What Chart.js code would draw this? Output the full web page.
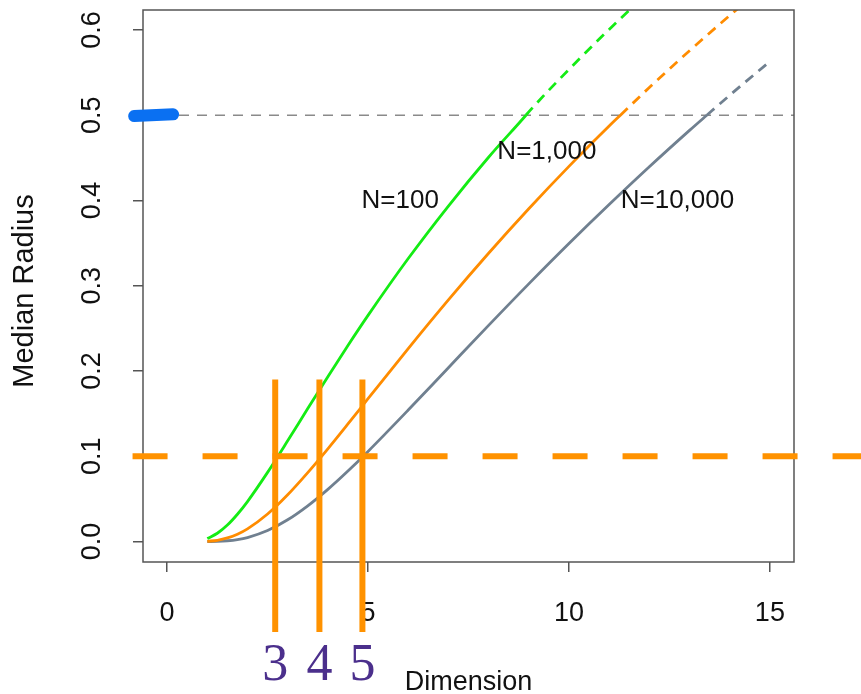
<!DOCTYPE html>
<html>
<head>
<meta charset="utf-8">
<script src="https://cdn.jsdelivr.net/npm/chart.js@4.4.1/dist/chart.umd.min.js"></script>
<style>
  body { margin: 0; background: #fff; }
  #chart { display: block; }
</style>
</head>
<body>
<canvas id="chart" width="861" height="694"></canvas>
<script>
// dimensions (x) and median radius for each sample size
const dims = [1, 1.25, 1.5, 1.75, 2, 2.5, 3, 3.5, 4, 4.5, 5, 6, 7, 8, 9, 10, 11, 12, 13, 14, 15];
const radius100 = [0.0035, 0.0097, 0.0193, 0.0320, 0.0469, 0.0811, 0.1181, 0.1560, 0.1934, 0.2299, 0.2652, 0.3319, 0.3935, 0.4507, 0.5039, 0.5537, 0.6006, 0.6449, 0.6870, 0.7270, 0.7653];
const radius1000 = [0.0003, 0.0015, 0.0042, 0.0086, 0.0149, 0.0323, 0.0549, 0.0809, 0.1088, 0.1379, 0.1675, 0.2263, 0.2834, 0.3381, 0.3903, 0.4400, 0.4873, 0.5325, 0.5756, 0.6169, 0.6566];
const radius10000 = [0.0000, 0.0002, 0.0009, 0.0023, 0.0047, 0.0129, 0.0255, 0.0419, 0.0612, 0.0827, 0.1057, 0.1542, 0.2039, 0.2535, 0.3022, 0.3495, 0.3952, 0.4395, 0.4822, 0.5234, 0.5631];
// where each curve reaches the 0.5 line (solid below, dashed above)
const crossDims = [8.93, 11.28, 13.43];
const seriesNames = ['N=100', 'N=1,000', 'N=10,000'];
const seriesColors = ['#14ec14', '#ff8c00', '#708090'];
const labelPos = [[5.8, 0.4], [9.45, 0.457], [12.7, 0.4]];

const xTicks = [0, 5, 10, 15];
const yTicks = [0, 0.1, 0.2, 0.3, 0.4, 0.5, 0.6];
const refLine = 0.5;

// hand drawn marks on top of the figure
const cutLine = 0.1;
const cutDims = [2.69, 3.79, 4.86];
const cutLabels = ['3', '4', '5'];

function makePoints(vals, cross) {
    let pts = dims.map((d, i) => ({ x: d, y: vals[i] }));
    pts.push({ x: cross, y: refLine });
    pts.sort((a, b) => a.x - b.x);
    return pts;
}

const allVals = [radius100, radius1000, radius10000];
const datasets = allVals.map((vals, i) => ({
    label: seriesNames[i],
    data: makePoints(vals, crossDims[i]),
    borderColor: seriesColors[i],
    borderWidth: 2.8,
    pointRadius: 0,
    cubicInterpolationMode: 'monotone',
    segment: {
        borderDash: ctx => ctx.p0.parsed.y >= refLine - 0.0001 ? [10, 7] : undefined
    }
}));

const axisFont = '27px "Liberation Sans", Arial, sans-serif';

const extras = {
    id: 'extras',
    beforeDatasetsDraw(chart) {
        const { ctx, chartArea, scales: { y } } = chart;
        const py = y.getPixelForValue(refLine);
        ctx.save();
        ctx.strokeStyle = '#8a8a8a';
        ctx.lineWidth = 1.5;
        ctx.setLineDash([10, 8]);
        ctx.beginPath();
        ctx.moveTo(chartArea.left, py);
        ctx.lineTo(chartArea.right, py);
        ctx.stroke();
        ctx.restore();
    },
    afterDraw(chart) {
        const { ctx, chartArea, scales: { x, y } } = chart;
        ctx.save();
        // frame
        ctx.strokeStyle = '#555';
        ctx.lineWidth = 1.5;
        ctx.strokeRect(chartArea.left, chartArea.top, chartArea.right - chartArea.left, chartArea.bottom - chartArea.top);

        // y tick labels, rotated like R
        ctx.fillStyle = '#111';
        ctx.font = axisFont;
        ctx.textAlign = 'center';
        ctx.textBaseline = 'alphabetic';
        yTicks.forEach(v => {
            ctx.save();
            ctx.translate(chartArea.left - 43, y.getPixelForValue(v));
            ctx.rotate(-Math.PI / 2);
            ctx.fillText(v.toFixed(1), 0, 0);
            ctx.restore();
        });

        // axis titles
        ctx.save();
        ctx.font = '29px "Liberation Sans", Arial, sans-serif';
        ctx.translate(chartArea.left - 110, (chartArea.top + chartArea.bottom) / 2 + 5);
        ctx.rotate(-Math.PI / 2);
        ctx.fillText('Median Radius', 0, 0);
        ctx.restore();
        ctx.fillText('Dimension', (chartArea.left + chartArea.right) / 2, chartArea.bottom + 128);

        // curve labels
        ctx.font = '26px "Liberation Sans", Arial, sans-serif';
        ctx.textBaseline = 'middle';
        labelPos.forEach((p, i) => {
            ctx.fillText(seriesNames[i], x.getPixelForValue(p[0]), y.getPixelForValue(p[1]));
        });

        // orange annotations
        ctx.strokeStyle = '#ff9200';
        ctx.lineWidth = 6;
        ctx.setLineDash([35, 35]);
        ctx.beginPath();
        ctx.moveTo(x.getPixelForValue(-0.86), y.getPixelForValue(cutLine));
        ctx.lineTo(chart.width + 5, y.getPixelForValue(cutLine));
        ctx.stroke();
        ctx.setLineDash([]);
        cutDims.forEach(d => {
            const px = x.getPixelForValue(d);
            ctx.beginPath();
            ctx.moveTo(px, y.getPixelForValue(0.19));
            ctx.lineTo(px, y.getPixelForValue(-0.106));
            ctx.stroke();
        });

        // purple digits under the lines
        ctx.fillStyle = '#4b2f8c';
        ctx.font = '52px "Liberation Serif", "Times New Roman", serif';
        ctx.textBaseline = 'alphabetic';
        cutDims.forEach((d, i) => {
            ctx.fillText(cutLabels[i], x.getPixelForValue(d), y.getPixelForValue(-0.162));
        });

        // blue highlight at 0.5
        ctx.strokeStyle = '#0a70f2';
        ctx.lineWidth = 12;
        ctx.lineCap = 'round';
        ctx.beginPath();
        ctx.moveTo(x.getPixelForValue(-0.82), y.getPixelForValue(0.499));
        ctx.lineTo(x.getPixelForValue(0.15), y.getPixelForValue(0.501));
        ctx.stroke();
        ctx.restore();
    }
};

new Chart(document.getElementById('chart').getContext('2d'), {
    type: 'line',
    data: { datasets: datasets },
    options: {
        responsive: false,
        animation: false,
        layout: { padding: { left: 0, top: 10, right: 67, bottom: 0 } },
        plugins: { legend: { display: false }, tooltip: { enabled: false } },
        scales: {
            x: {
                type: 'linear',
                min: -0.6,
                max: 15.6,
                afterBuildTicks: s => { s.ticks = xTicks.map(v => ({ value: v })); },
                afterFit: s => { s.height = 132; },
                grid: { drawOnChartArea: false, drawTicks: true, tickLength: 10, color: '#555', lineWidth: 1.5 },
                border: { display: false },
                ticks: {
                    color: '#111',
                    padding: 25,
                    maxRotation: 0,
                    font: { family: '"Liberation Sans", Arial, sans-serif', size: 27 }
                }
            },
            y: {
                type: 'linear',
                min: -0.024,
                max: 0.6234,
                afterBuildTicks: s => { s.ticks = yTicks.map(v => ({ value: v })); },
                afterFit: s => { s.width = 143; },
                grid: { drawOnChartArea: false, drawTicks: true, tickLength: 10, color: '#555', lineWidth: 1.5 },
                border: { display: false },
                ticks: { display: false }
            }
        }
    },
    plugins: [extras]
});
</script>
</body>
</html>
